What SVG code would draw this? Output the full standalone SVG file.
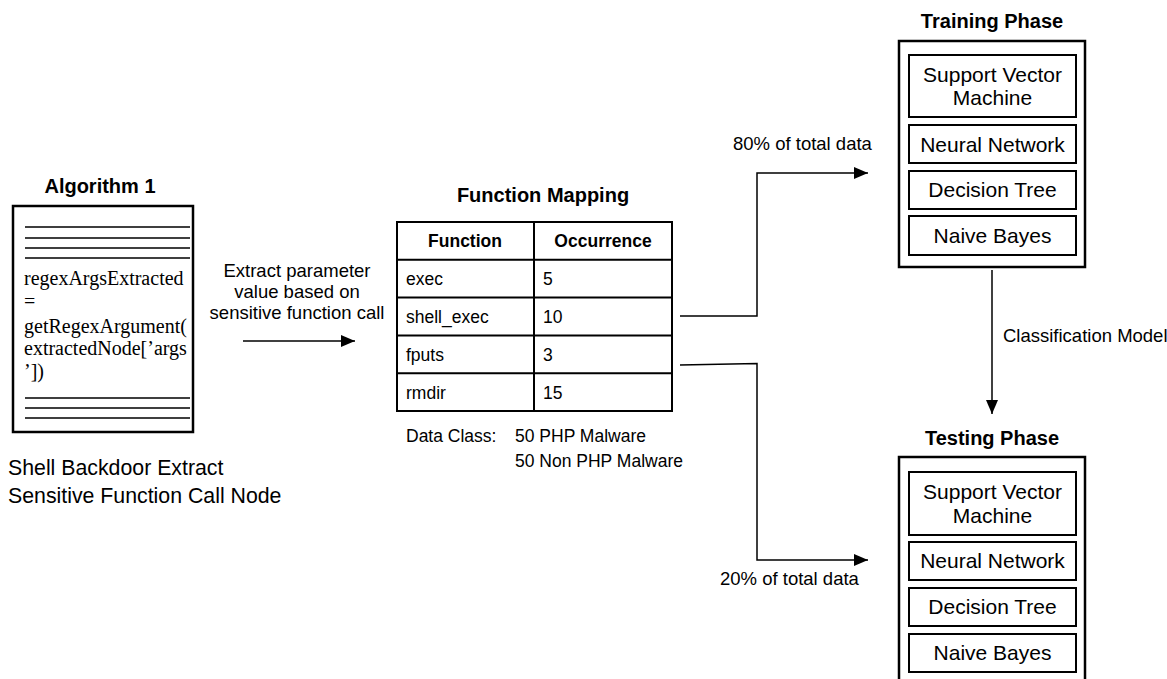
<svg xmlns="http://www.w3.org/2000/svg" width="1167" height="679" viewBox="0 0 1167 679">
<style>
  .title{font-family:"Liberation Sans",Arial,sans-serif;font-weight:bold;font-size:20px;fill:#000;text-anchor:middle}
  .lbl{font-family:"Liberation Sans",Arial,sans-serif;font-size:18.5px;fill:#000}
  .tbl{font-family:"Liberation Sans",Arial,sans-serif;font-size:17.5px;fill:#000}
  .th{font-family:"Liberation Sans",Arial,sans-serif;font-weight:bold;font-size:17.5px;fill:#000;text-anchor:middle}
  .box{font-family:"Liberation Sans",Arial,sans-serif;font-size:21px;fill:#000;text-anchor:middle}
  .code{font-family:"Liberation Serif","Times New Roman",serif;font-size:20px;fill:#000}
  .frame{fill:#fff;stroke:#000;stroke-width:2.5}
  .inner{fill:#fff;stroke:#000;stroke-width:2}
  .rule{stroke:#000;stroke-width:1.5;fill:none}
  .conn{stroke:#000;stroke-width:1.5;fill:none}
</style>
<defs>
  <marker id="ah" markerWidth="14" markerHeight="12" refX="14" refY="6" orient="auto" markerUnits="userSpaceOnUse">
    <path d="M0,0 L14,6 L0,12 z" fill="#000"/>
  </marker>
</defs>
<rect width="1167" height="679" fill="#fff"/>

<g id="algorithm1">
  <text class="title" x="100" y="193">Algorithm 1</text>
  <rect class="frame" x="13" y="206" width="180" height="226"/>
  <path class="rule" d="M25,227 H190 M25,238 H190 M25,248 H190 M25,258 H190"/>
  <text class="code" x="24" y="285">regexArgsExtracted</text>
  <text class="code" x="24" y="308">=</text>
  <text class="code" x="24" y="333">getRegexArgument(</text>
  <text class="code" x="24" y="355">extractedNode[’args</text>
  <text class="code" x="24" y="378">’])</text>
  <path class="rule" d="M25,398 H190 M25,408 H190 M25,418 H190"/>
  <text class="lbl" x="8" y="475" style="font-size:21.3px">Shell Backdoor Extract</text>
  <text class="lbl" x="8" y="503" style="font-size:21.3px">Sensitive Function Call Node</text>
</g>

<g id="function-mapping">
  <text class="title" x="543" y="202">Function Mapping</text>
  <rect class="inner" x="397" y="222" width="275" height="189"/>
  <path class="rule" style="stroke-width:2" d="M397,259.8 H672 M397,297.6 H672 M397,335.4 H672 M397,373.2 H672 M534,222 V411"/>
  <text class="th" x="465" y="247">Function</text>
  <text class="th" x="603" y="247">Occurrence</text>
  <text class="tbl" x="406" y="285">exec</text>
  <text class="tbl" x="543" y="285">5</text>
  <text class="tbl" x="406" y="323">shell_exec</text>
  <text class="tbl" x="543" y="323">10</text>
  <text class="tbl" x="406" y="361">fputs</text>
  <text class="tbl" x="543" y="361">3</text>
  <text class="tbl" x="406" y="399">rmdir</text>
  <text class="tbl" x="543" y="399">15</text>
  <text class="tbl" x="406" y="442">Data Class:</text>
  <text class="tbl" x="515" y="442">50 PHP Malware</text>
  <text class="tbl" x="515" y="467">50 Non PHP Malware</text>
</g>

<g id="training-phase">
  <text class="title" x="992" y="28">Training Phase</text>
  <rect class="frame" x="899" y="41" width="186" height="226"/>
  <rect class="inner" x="909" y="55" width="167" height="62"/>
  <text class="box" x="992.5" y="82">Support Vector</text>
  <text class="box" x="992.5" y="105">Machine</text>
  <rect class="inner" x="909" y="125" width="167" height="38"/>
  <text class="box" x="992.5" y="152">Neural Network</text>
  <rect class="inner" x="909" y="171" width="167" height="38"/>
  <text class="box" x="992.5" y="197">Decision Tree</text>
  <rect class="inner" x="909" y="216" width="167" height="39"/>
  <text class="box" x="992.5" y="243">Naive Bayes</text>
</g>

<g id="testing-phase">
  <text class="title" x="992" y="445">Testing Phase</text>
  <rect class="frame" x="899" y="457" width="186" height="228"/>
  <rect class="inner" x="909" y="472" width="167" height="63"/>
  <text class="box" x="992.5" y="499">Support Vector</text>
  <text class="box" x="992.5" y="523">Machine</text>
  <rect class="inner" x="909" y="542" width="167" height="38"/>
  <text class="box" x="992.5" y="568">Neural Network</text>
  <rect class="inner" x="909" y="588" width="167" height="38"/>
  <text class="box" x="992.5" y="614">Decision Tree</text>
  <rect class="inner" x="909" y="634" width="167" height="38"/>
  <text class="box" x="992.5" y="660">Naive Bayes</text>
</g>

<g id="connectors">
  <path class="conn" d="M243,341 H355" marker-end="url(#ah)"/>
  <text class="lbl" x="297" y="277" text-anchor="middle">Extract parameter</text>
  <text class="lbl" x="297" y="298" text-anchor="middle">value based on</text>
  <text class="lbl" x="297" y="319" text-anchor="middle">sensitive function call</text>

  <path class="conn" d="M680,316 H757 V173 H868" marker-end="url(#ah)"/>
  <text class="lbl" x="733" y="150">80% of total data</text>

  <path class="conn" d="M680,365 L757,363.5 V560 H868" marker-end="url(#ah)"/>
  <text class="lbl" x="720" y="585">20% of total data</text>

  <path class="conn" d="M992,270 V414" marker-end="url(#ah)"/>
  <text class="lbl" x="1003" y="342">Classification Model</text>
</g>
</svg>
